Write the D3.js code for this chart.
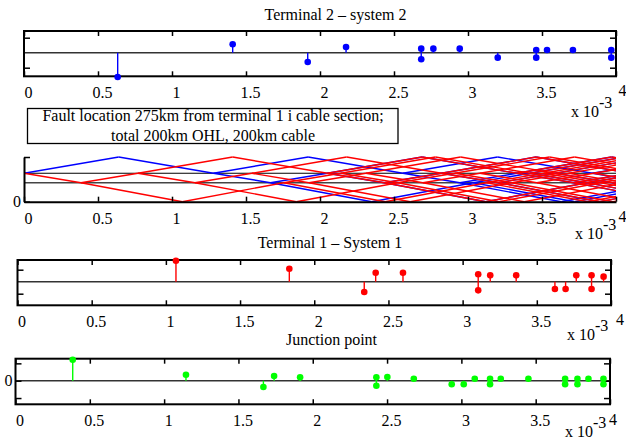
<!DOCTYPE html>
<html lang="en">
<head>
<meta charset="UTF-8">
<title>Fault travelling waves</title>
<style>
  body { margin: 0; background: #fff; }
  svg { display: block; }
  text { font-family: "Liberation Serif", "Times New Roman", serif; font-size: 16px; fill: #000; }
</style>
</head>
<body>
<svg width="626" height="439"></svg>
<script src="https://cdn.jsdelivr.net/npm/d3@7/dist/d3.min.js"></script>
<script>
  // time axis, x 10^-3 s
  const xTicks = [0, 0.5, 1, 1.5, 2, 2.5, 3, 3.5, 4];
  const xTickLabels = ["0", "0.5", "1", "1.5", "2", "2.5", "3", "3.5", "4"];

  // terminal 2 arrivals
  const t2Times = [0.633, 1.410, 1.917, 2.176, 2.684, 2.684, 2.766, 2.944, 3.201, 3.461, 3.461, 3.534, 3.709, 3.968, 3.968];
  const t2Values = [-1.62, 0.56, -0.62, 0.38, 0.27, -0.44, 0.27, 0.27, -0.33, 0.18, -0.33, 0.18, 0.18, 0.18, -0.33];

  // terminal 1 arrivals
  const t1Times = [1.068, 1.832, 2.337, 2.414, 2.598, 3.105, 3.105, 3.186, 3.361, 3.622, 3.694, 3.766, 3.869, 3.869, 3.950];
  const t1Values = [1.75, 1.08, -0.86, 0.75, 0.75, 0.62, -0.72, 0.53, 0.53, -0.61, -0.61, 0.53, 0.53, -0.61, 0.42];

  // junction point arrivals
  const junTimes = [0.385, 1.147, 1.668, 1.740, 1.915, 2.428, 2.428, 2.502, 2.680, 2.935, 3.016, 3.090, 3.193, 3.193,
                    3.265, 3.451, 3.698, 3.698, 3.781, 3.781, 3.855, 3.956, 3.956];
  const junValues = [3.63, 1.04, -1.09, 0.81, 0.59, 0.59, -0.87, 0.64, 0.35, -0.62, -0.62, 0.35, 0.35, -0.62,
                     0.35, 0.35, 0.35, -0.62, 0.35, -0.62, 0.35, 0.35, -0.62];

  // lattice diagram: node levels and wave segments [t start, t end, from, to, family]
  const nodeNames = ["T1", "J", "F", "T2"];
  const nodeLevels = [0, 0.727, 1.086, 1.71];
  const waveSegments = [
    [0, 0.64, "F", "T2", "B"], [0, 0.385, "F", "J", "R"], [0.385, 0.77, "J", "F", "R"], [0.385, 1.07, "J", "T1", "R"],
    [0.64, 1.28, "T2", "F", "B"], [0.77, 1.41, "F", "T2", "R"], [0.77, 1.155, "F", "J", "R"], [1.07, 1.755, "T1", "J", "R"],
    [1.155, 1.54, "J", "F", "R"], [1.155, 1.84, "J", "T1", "R"], [1.28, 1.92, "F", "T2", "B"], [1.28, 1.665, "F", "J", "B"],
    [1.41, 2.05, "T2", "F", "R"], [1.54, 2.18, "F", "T2", "R"], [1.54, 1.925, "F", "J", "R"], [1.665, 2.05, "J", "F", "B"],
    [1.665, 2.35, "J", "T1", "B"], [1.755, 2.14, "J", "F", "R"], [1.755, 2.44, "J", "T1", "R"], [1.84, 2.525, "T1", "J", "R"],
    [1.925, 2.31, "J", "F", "R"], [1.925, 2.61, "J", "T1", "R"], [1.92, 2.56, "T2", "F", "B"], [2.05, 2.69, "F", "T2", "RB"],
    [2.05, 2.435, "F", "J", "RB"], [2.14, 2.78, "F", "T2", "R"], [2.14, 2.525, "F", "J", "R"], [2.18, 2.82, "T2", "F", "R"],
    [2.31, 2.95, "F", "T2", "R"], [2.31, 2.695, "F", "J", "R"], [2.35, 3.035, "T1", "J", "B"], [2.435, 2.82, "J", "F", "RB"],
    [2.435, 3.12, "J", "T1", "RB"], [2.44, 3.125, "T1", "J", "R"], [2.525, 2.91, "J", "F", "R"], [2.525, 3.21, "J", "T1", "R"],
    [2.56, 3.2, "F", "T2", "B"], [2.56, 2.945, "F", "J", "B"], [2.61, 3.295, "T1", "J", "R"], [2.695, 3.08, "J", "F", "R"],
    [2.695, 3.38, "J", "T1", "R"], [2.69, 3.33, "T2", "F", "RB"], [2.78, 3.42, "T2", "F", "R"], [2.82, 3.46, "F", "T2", "RB"],
    [2.82, 3.205, "F", "J", "RB"], [2.91, 3.55, "F", "T2", "R"], [2.91, 3.295, "F", "J", "R"], [2.95, 3.59, "T2", "F", "R"],
    [2.945, 3.33, "J", "F", "B"], [2.945, 3.63, "J", "T1", "B"], [3.035, 3.42, "J", "F", "B"], [3.035, 3.72, "J", "T1", "B"],
    [3.08, 3.72, "F", "T2", "R"], [3.08, 3.465, "F", "J", "R"], [3.12, 3.805, "T1", "J", "RB"], [3.125, 3.51, "J", "F", "R"],
    [3.125, 3.81, "J", "T1", "R"], [3.205, 3.59, "J", "F", "RB"], [3.205, 3.89, "J", "T1", "RB"], [3.2, 3.84, "T2", "F", "B"],
    [3.21, 3.895, "T1", "J", "R"], [3.295, 3.68, "J", "F", "R"], [3.295, 3.98, "J", "T1", "R"], [3.33, 3.97, "F", "T2", "RB"],
    [3.33, 3.715, "F", "J", "RB"], [3.38, 4.065, "T1", "J", "R"], [3.42, 4.06, "F", "T2", "RB"], [3.42, 3.805, "F", "J", "RB"],
    [3.46, 4.10, "T2", "F", "RB"], [3.465, 3.85, "J", "F", "R"], [3.465, 4.15, "J", "T1", "R"], [3.51, 4.15, "F", "T2", "R"],
    [3.51, 3.895, "F", "J", "R"], [3.55, 4.19, "T2", "F", "R"], [3.59, 4.23, "F", "T2", "RB"], [3.59, 3.975, "F", "J", "RB"],
    [3.63, 4.315, "T1", "J", "B"], [3.68, 4.32, "F", "T2", "R"], [3.68, 4.065, "F", "J", "R"], [3.715, 4.10, "J", "F", "RB"],
    [3.715, 4.40, "J", "T1", "RB"], [3.72, 4.36, "T2", "F", "R"], [3.72, 4.405, "T1", "J", "B"], [3.805, 4.19, "J", "F", "RB"],
    [3.805, 4.49, "J", "T1", "RB"], [3.81, 4.495, "T1", "J", "R"], [3.84, 4.48, "F", "T2", "B"], [3.84, 4.225, "F", "J", "B"],
    [3.85, 4.49, "F", "T2", "R"], [3.85, 4.235, "F", "J", "R"], [3.89, 4.575, "T1", "J", "RB"], [3.895, 4.28, "J", "F", "R"],
    [3.895, 4.58, "J", "T1", "R"], [3.97, 4.61, "T2", "F", "RB"], [3.975, 4.36, "J", "F", "RB"], [3.975, 4.66, "J", "T1", "RB"],
    [3.98, 4.665, "T1", "J", "R"]
  ];

  const noteLines = ["Fault location 275km from terminal 1 i cable section;", "total 200km OHL, 200km cable"];

  const svg = d3.select("svg");

  const panelT2 = {left: 24, right: 616, top: 31, bottom: 76.3, yDomain: [-1.573, 1.447], yTicks: [-1, 1],
    title: "Terminal 2 – system 2", titleX: 335.5, titleY: 20, lastDx: 6, lastDy: -1.7, expX: 571, expY: 117};
  const panelLat = {left: 24, right: 616, top: 157, bottom: 201.7, lastDx: 6, lastDy: -1.6, expX: 575, expY: 239};
  const panelT1 = {left: 17.5, right: 611, top: 260, bottom: 305.3, yDomain: [-1.967, 1.808], yTicks: [-1, 1],
    title: "Terminal 1 – System 1", titleX: 330, titleY: 247.5, lastDx: 8.5, lastDy: -2.2, expX: 567, expY: 340};
  const panelJ = {left: 15.5, right: 610, top: 358.7, bottom: 404.3, yDomain: [-4.083, 3.806], yTicks: [-3, 0, 3], zeroLabel: true,
    title: "Junction point", titleX: 331.5, titleY: 345, lastDx: 2.5, lastDy: -1.2, expX: 565, expY: 436.5};

  function bottomLabels(x, p, drawDomain) {
    const ax = svg.append("g")
      .attr("transform", "translate(0," + p.bottom + ")")
      .call(d3.axisBottom(x).tickValues(xTicks)
        .tickFormat(function (d, i) { return xTickLabels[i]; })
        .tickSizeInner(-5).tickSizeOuter(0).tickPadding(10.5));
    if (drawDomain) {
      ax.select(".domain").attr("stroke-width", 2);
    } else {
      ax.select(".domain").remove();
    }
    ax.selectAll(".tick line").attr("stroke-width", 1.5);
    ax.selectAll(".tick text").attr("dx", 4);
    ax.selectAll(".tick text").filter(function (d, i) { return i === xTicks.length - 1; })
      .attr("dx", p.lastDx).attr("y", 10.5 + p.lastDy);

    svg.append("text")
      .attr("x", p.expX).attr("y", p.expY)
      .text("x 10")
      .append("tspan").attr("dy", -9).text("-3");
  }

  function stemPanel(p, times, values, color) {
    const x = d3.scaleLinear().domain([0, 4]).range([p.left, p.right]);
    const y = d3.scaleLinear().domain(p.yDomain).range([p.bottom, p.top]);

    svg.append("text").attr("x", p.titleX).attr("y", p.titleY)
      .attr("text-anchor", "middle").text(p.title);

    svg.append("line")
      .attr("x1", p.left).attr("x2", p.right)
      .attr("y1", y(0)).attr("y2", y(0))
      .attr("stroke", "#333").attr("stroke-width", 1.6);

    // top ticks
    const topAx = svg.append("g").attr("transform", "translate(0," + p.top + ")")
      .call(d3.axisTop(x).tickValues(xTicks).tickFormat("").tickSizeInner(-5).tickSizeOuter(0));
    topAx.select(".domain").remove();
    topAx.selectAll(".tick line").attr("stroke-width", 1.5);

    const leftAx = svg.append("g").attr("transform", "translate(" + p.left + ",0)")
      .call(d3.axisLeft(y).tickValues(p.yTicks)
        .tickFormat(function (d) { return (p.zeroLabel && d === 0) ? "0" : ""; })
        .tickSizeInner(-6).tickSizeOuter(0).tickPadding(3));
    leftAx.select(".domain").remove();
    leftAx.selectAll(".tick line").attr("stroke-width", 1.5);

    const rightAx = svg.append("g").attr("transform", "translate(" + p.right + ",0)")
      .call(d3.axisRight(y).tickValues(p.yTicks).tickFormat("").tickSizeInner(-6).tickSizeOuter(0));
    rightAx.select(".domain").remove();
    rightAx.selectAll(".tick line").attr("stroke-width", 1.5);

    bottomLabels(x, p, false);

    svg.append("rect")
      .attr("x", p.left).attr("y", p.top)
      .attr("width", p.right - p.left).attr("height", p.bottom - p.top)
      .attr("fill", "none").attr("stroke", "#000").attr("stroke-width", 2);

    const stems = svg.append("g");
    stems.selectAll("line")
      .data(times)
      .enter()
      .append("line")
      .attr("x1", function (d) { return x(d); })
      .attr("x2", function (d) { return x(d); })
      .attr("y1", y(0))
      .attr("y2", function (d, i) { return y(values[i]); })
      .attr("stroke", color).attr("stroke-width", 1.4);
    stems.selectAll("circle")
      .data(times)
      .enter()
      .append("circle")
      .attr("cx", function (d) { return x(d); })
      .attr("cy", function (d, i) { return y(values[i]); })
      .attr("r", 3.3)
      .attr("fill", color);
  }

  stemPanel(panelT2, t2Times, t2Values, "#0000ff");
  stemPanel(panelT1, t1Times, t1Values, "#ff0000");
  stemPanel(panelJ, junTimes, junValues, "#00ff00");

  // note box
  svg.append("rect")
    .attr("x", 27.5).attr("y", 108.5).attr("width", 370.5).attr("height", 35)
    .attr("fill", "#fff").attr("stroke", "#000").attr("stroke-width", 1.3);
  svg.selectAll(".note")
    .data(noteLines)
    .enter()
    .append("text")
    .attr("class", "note")
    .attr("x", 213)
    .attr("y", function (d, i) { return 121 + i * 19.5; })
    .attr("text-anchor", "middle")
    .text(function (d) { return d; });

  // lattice diagram
  const lx = d3.scaleLinear().domain([0, 4]).range([panelLat.left, panelLat.right]);
  const ly = d3.scaleLinear().domain([0, nodeLevels[3]]).range([panelLat.bottom, panelLat.top]);
  const level = function (name) { return nodeLevels[nodeNames.indexOf(name)]; };

  svg.append("clipPath").attr("id", "latClip")
    .append("rect")
    .attr("x", panelLat.left).attr("y", panelLat.top - 3)
    .attr("width", panelLat.right - panelLat.left).attr("height", panelLat.bottom - panelLat.top + 6);

  svg.append("line")
    .attr("x1", panelLat.left).attr("x2", panelLat.right)
    .attr("y1", ly(level("F"))).attr("y2", ly(level("F")))
    .attr("stroke", "#000").attr("stroke-width", 1.1);
  svg.append("line")
    .attr("x1", panelLat.left).attr("x2", panelLat.right)
    .attr("y1", ly(level("J"))).attr("y2", ly(level("J")))
    .attr("stroke", "#444").attr("stroke-width", 1.6);

  const waves = svg.append("g").attr("clip-path", "url(#latClip)");
  [["B", "#0000ff"], ["R", "#ff0000"]].forEach(function (fc) {
    waves.append("g").selectAll("line")
      .data(waveSegments.filter(function (s) { return s[4].indexOf(fc[0]) >= 0; }))
      .enter()
      .append("line")
      .attr("x1", function (s) { return lx(s[0]); })
      .attr("x2", function (s) { return lx(s[1]); })
      .attr("y1", function (s) { return ly(level(s[2])); })
      .attr("y2", function (s) { return ly(level(s[3])); })
      .attr("stroke", fc[1]).attr("stroke-width", 1.4);
  });

  const latLeft = svg.append("g").attr("transform", "translate(" + panelLat.left + ",0)")
    .call(d3.axisLeft(ly).tickValues([0, nodeLevels[3]])
      .tickFormat(function (d) { return d === 0 ? "0" : ""; })
      .tickSizeInner(-6).tickSizeOuter(0).tickPadding(3));
  latLeft.select(".domain").attr("stroke-width", 2);
  latLeft.selectAll(".tick line").attr("stroke-width", 1.5);

  bottomLabels(lx, panelLat, true);

  svg.selectAll("g").attr("font-size", null).attr("font-family", null);
</script>
</body>
</html>
